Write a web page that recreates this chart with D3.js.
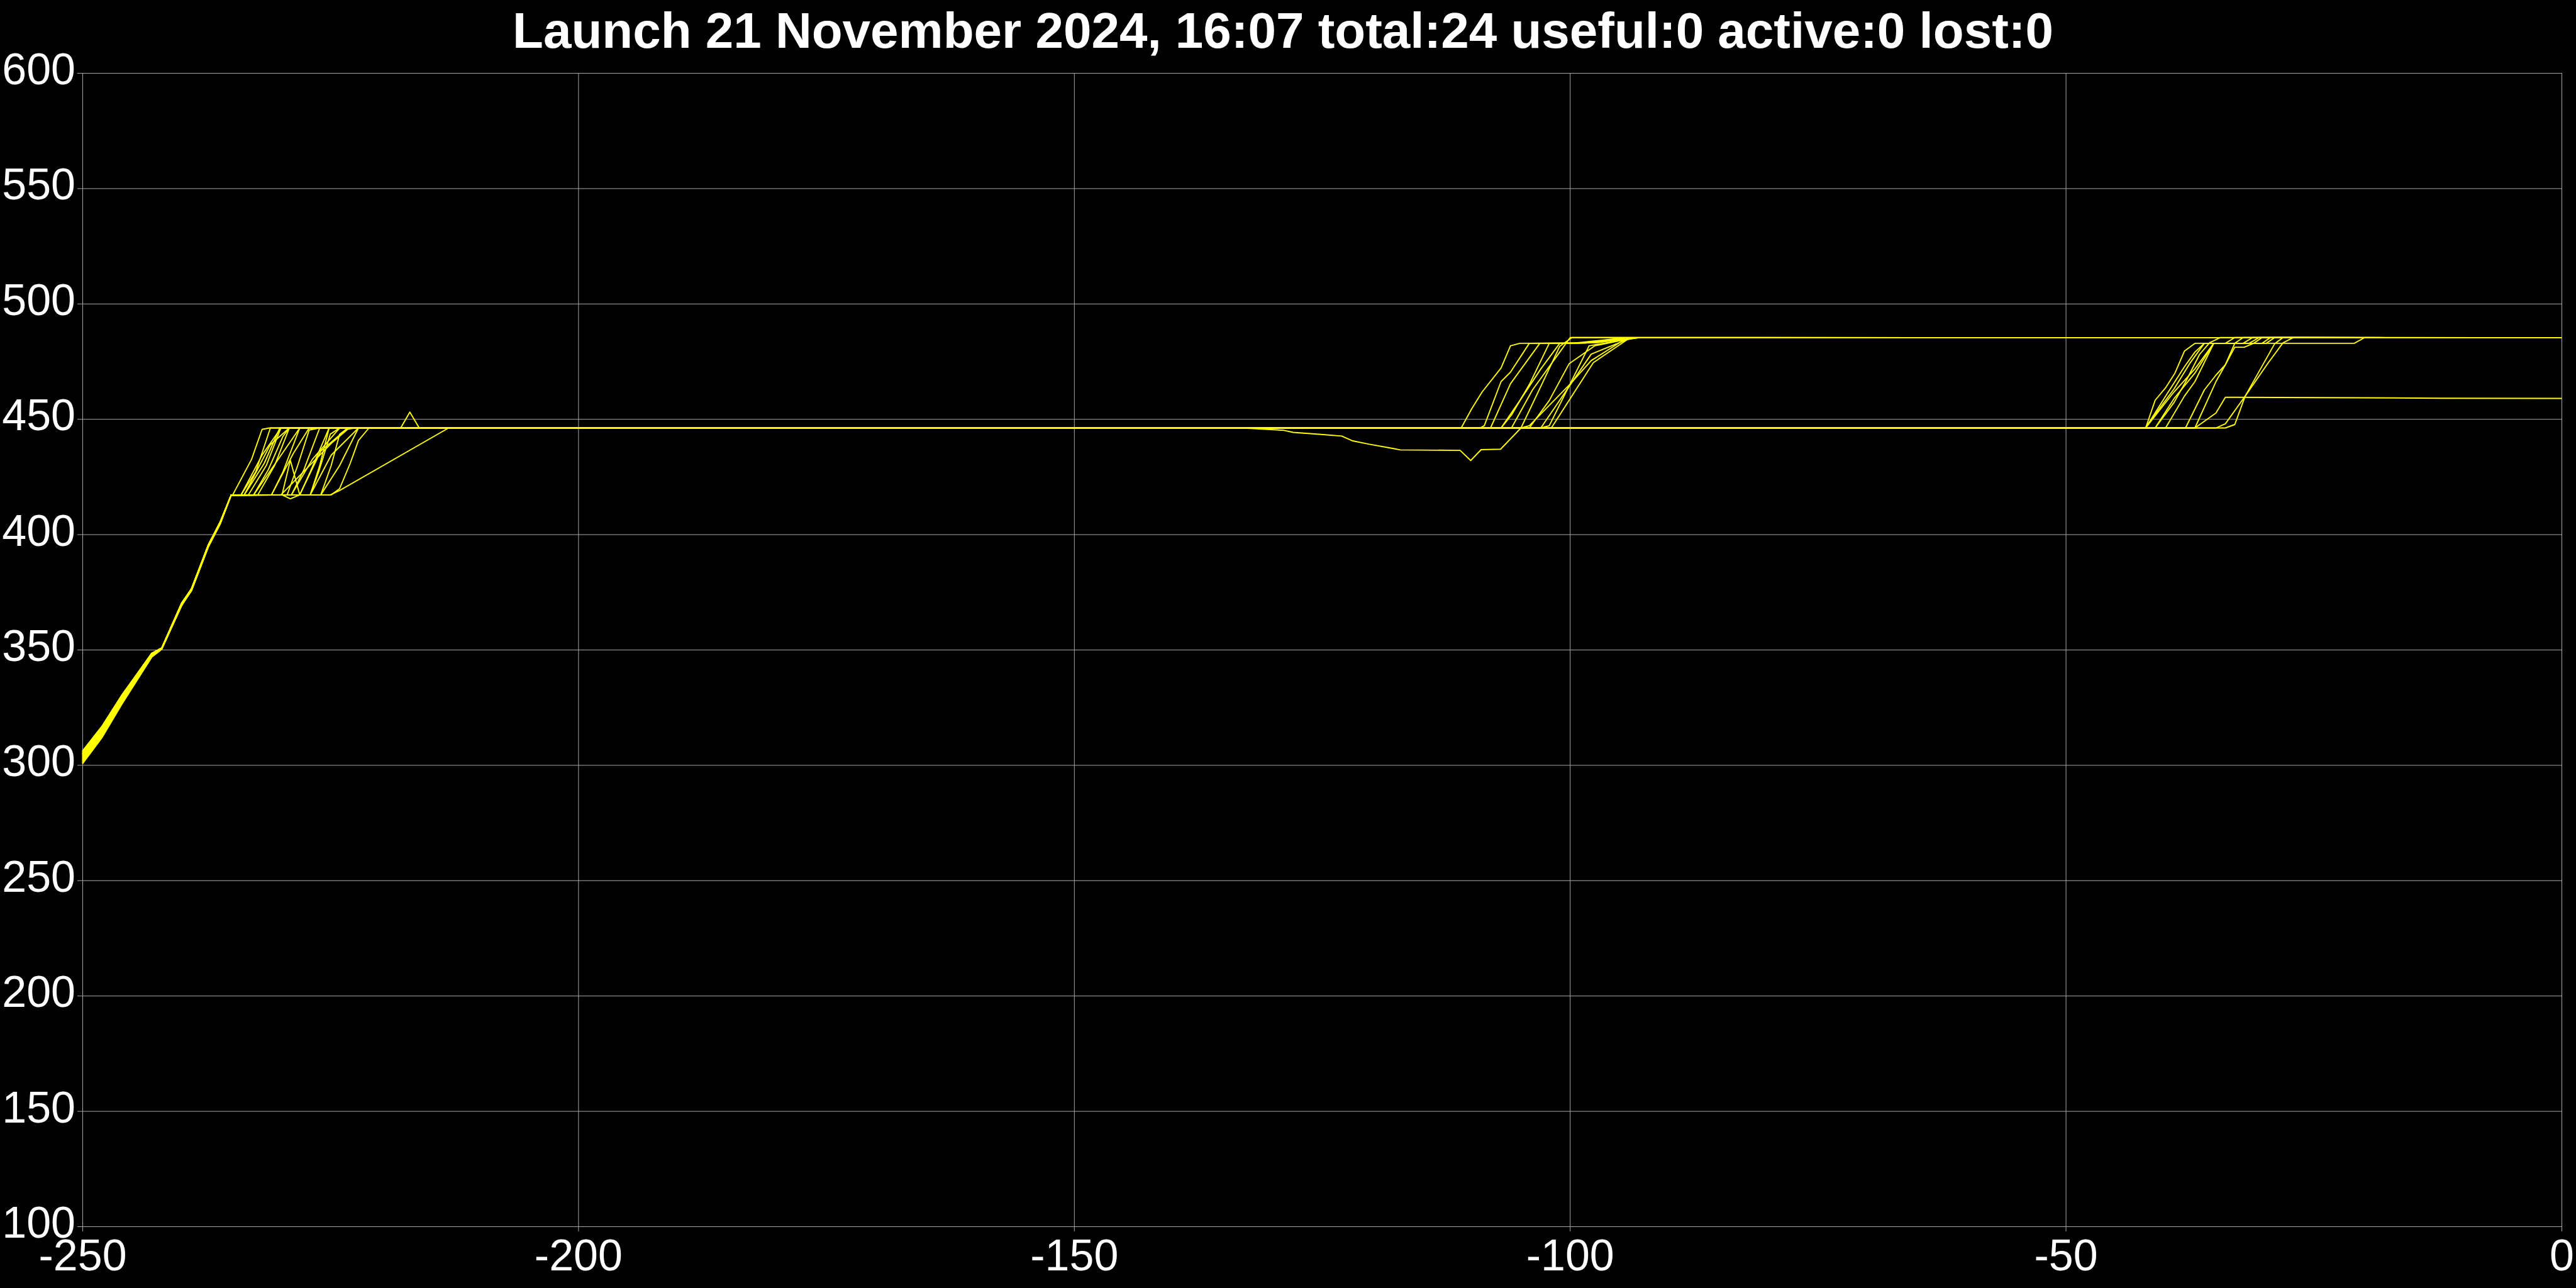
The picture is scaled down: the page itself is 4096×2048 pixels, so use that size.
<!DOCTYPE html>
<html><head><meta charset="utf-8">
<script src="https://cdn.jsdelivr.net/npm/d3@7"></script>
<style>html,body{margin:0;padding:0;background:#000}svg{display:block}</style>
</head><body>
<script>
const titleText = "Launch 21 November 2024, 16:07 total:24 useful:0 active:0 lost:0";
const xTicks = [-250, -200, -150, -100, -50, 0];
const yTicks = [100, 150, 200, 250, 300, 350, 400, 450, 500, 550, 600];
const xDomain = [-250, 0];
const yDomain = [100, 600];

const s01 = [[-250,304.0],[-248,315.5],[-246,329.5],[-243,348.0],[-242,350.5],[-240,369.0],[-239,376.0],[-237.3,395.5],[-236.1,405.0],[-235,417.0],
 [-234.84,417.1],[-232.94,432.5],[-231.88,445.5],[-231.14,446.1],[-217.9,446.1],[-216.98,453.0],[-216.03,446.1],
 [-41.94,446.1],[-40.98,458.1],[-39.93,463.5],[-38.98,469.9],[-38.03,479.4],[-36.97,482.8],[-33.9,482.8],[-32.95,485.3],[0,485.2]];
const s02 = [[-250,301.0],[-248,312.5],[-246,327.0],[-243,347.0],[-242,350.5],[-240,369.5],[-239,375.5],[-237.3,394.5],[-236.1,404.5],[-235,417.0],
 [-234.0,417.1],[-232.52,427.1],[-231.04,446.1],
 [-110.96,446.1],[-109.9,454.4],[-108.85,461.7],[-106.94,472.1],[-105.99,481.7],[-105.04,482.8],[-99.5,482.9],[-94.5,485.2],[0,485.2]];
const s03 = [[-250,305.5],[-248,316.5],[-246,330.0],[-243,348.5],[-242,350.8],[-240,370.0],[-239,376.5],[-237.3,395.5],[-236.1,405.5],[-235,417.0],
 [-233.68,417.1],[-231.67,430.7],[-230.09,446.1],
 [-41.94,446.1],[-39.93,459.9],[-38.03,472.6],[-36.97,479.0],[-36.02,482.8],[-32.95,482.8],[-32.11,485.3],[0,485.2]];
const s04 = [[-250,302.0],[-248,313.0],[-246,327.5],[-243,347.0],[-242,350.3],[-240,369.0],[-239,375.8],[-237.3,394.8],[-236.1,404.8],[-235,417.0],
 [-233.26,417.1],[-231.46,429.8],[-229.98,446.1],
 [-109.06,446.1],[-108.63,447.1],[-106.94,466.2],[-105.99,470.3],[-104.09,482.8],[-99.0,482.9],[-94.2,485.2],[0,485.2]];
const s05 = [[-250,306.0],[-248,317.0],[-246,330.5],[-243,348.5],[-242,350.6],[-240,370.2],[-239,376.3],[-237.3,395.3],[-236.1,405.2],[-235,417.0],
 [-232.73,417.1],[-231.25,428.0],[-229.77,442.5],[-229.13,446.1],
 [-41.94,446.1],[-39.08,461.7],[-36.97,471.7],[-35.07,482.8],[-32.11,482.8],[-31.15,485.3],[0,485.2]];
const s06 = [[-250,300.5],[-248,312.0],[-246,326.5],[-243,346.8],[-242,350.2],[-240,369.2],[-239,375.6],[-237.3,394.6],[-236.1,404.6],[-235,417.0],
 [-232.31,417.1],[-230.62,429.8],[-229.13,446.1],
 [-108.0,446.1],[-105.99,465.3],[-103.03,482.8],[-98.5,482.9],[-94.0,485.2],[0,485.2]];
const s07 = [[-250,303.5],[-248,314.5],[-246,328.5],[-243,347.8],[-242,350.5],[-240,369.6],[-239,376.0],[-237.3,395.0],[-236.1,405.0],[-235,417.0],
 [-230.93,417.1],[-229.77,427.1],[-228.08,446.1],
 [-40.98,446.1],[-39.08,458.8],[-36.97,469.9],[-35.07,482.8],[-31.05,482.8],[-30.2,485.3],[0,485.2]];
const s08 = [[-250,304.5],[-248,315.0],[-246,329.0],[-243,348.0],[-242,350.6],[-240,369.8],[-239,376.2],[-237.3,395.2],[-236.1,405.1],[-235,417.0],
 [-229.87,417.1],[-229.03,432.1],[-228.08,417.1],[-227.02,417.1],[-226.07,429.8],[-225.12,446.1],
 [-106.94,446.1],[-105.89,451.7],[-104.09,464.9],[-102.08,482.8],[-97.5,483.0],[-93.8,485.2],[0,485.2]];
const s09 = [[-250,302.5],[-248,313.5],[-246,327.8],[-243,347.3],[-242,350.4],[-240,369.4],[-239,375.9],[-237.3,394.9],[-236.1,404.9],[-235,417.0],
 [-229.35,417.1],[-228.29,429.8],[-227.13,445.2],[-226.07,446.1],
 [-39.93,446.1],[-38.03,459.9],[-36.97,466.2],[-35.07,482.8],[-30.2,482.8],[-29.36,485.3],[0,485.2]];
const s10 = [[-250,305.0],[-248,316.0],[-246,329.8],[-243,348.2],[-242,350.7],[-240,370.0],[-239,376.4],[-237.3,395.4],[-236.1,405.3],[-235,417.0],
 [-228.92,417.1],[-227.66,428.0],[-226.07,446.1],
 [-106.94,446.1],[-105.04,458.0],[-102.93,471.7],[-101.02,482.8],[-97.0,483.2],[-93.6,485.2],[0,485.2]];
const s11 = [[-250,301.5],[-248,312.8],[-246,327.2],[-243,347.1],[-242,350.3],[-240,369.3],[-239,375.7],[-237.3,394.7],[-236.1,404.7],[-235,417.0],
 [-228.08,417.1],[-227.02,427.1],[-225.12,446.1],
 [-37.92,446.1],[-36.02,462.6],[-34.85,469.0],[-33.9,473.5],[-32.95,482.8],[-29.78,482.8],[-28.93,485.3],[0,485.2]];
const s12 = [[-250,303.0],[-248,314.2],[-246,328.2],[-243,347.6],[-242,350.5],[-240,369.5],[-239,376.0],[-237.3,395.0],[-236.1,405.0],[-235,417.0],
 [-227.02,417.1],[-226.17,427.1],[-225.0,443.4],[-224.06,446.1],
 [-105.89,446.1],[-103.77,462.6],[-101.02,479.0],[-99.97,485.3],[0,485.2]];
const s13 = [[-250,304.8],[-248,315.8],[-246,329.3],[-243,348.1],[-242,350.6],[-240,369.9],[-239,376.3],[-237.3,395.3],[-236.1,405.2],[-235,417.0],
 [-225.96,417.1],[-224.91,429.8],[-224.06,443.4],[-223.22,446.1],
 [-36.97,446.1],[-34.85,466.2],[-33.9,473.5],[-32.95,481.1],[-32.0,481.1],[-31.05,482.8],[-20.9,482.8],[-19.85,485.3],[0,485.2]];
const s14 = [[-250,300.8],[-248,312.3],[-246,326.8],[-243,346.9],[-242,350.2],[-240,369.1],[-239,375.6],[-237.3,394.6],[-236.1,404.6],[-235,417.0],
 [-224.91,417.1],[-224.06,419.8],[-223.0,430.7],[-222.16,440.7],[-221.1,446.1],
 [-104.93,446.1],[-102.5,468.0],[-101.02,481.5],[-99.8,485.3],[0,485.2]];
const s15 = [[-250,305.8],[-248,316.8],[-246,330.3],[-243,348.4],[-242,350.7],[-240,370.1],[-239,376.4],[-237.3,395.4],[-236.1,405.4],[-235,417.0],
 [-225.0,417.1],[-224.06,419.0],[-213.07,446.1],
 [-36.97,446.1],[-34.85,452.6],[-33.9,459.4],[-20.0,459.2],[-12.0,459.0],[0,458.9]];
const s16 = [[-250,302.8],[-248,313.8],[-246,328.0],[-243,347.5],[-242,350.4],[-240,369.4],[-239,375.9],[-237.3,394.9],[-236.1,404.9],[-235,417.0],
 [-229.98,417.1],[-224.91,439.4],[-223.22,445.6],[-222.5,446.1],
 [-102.93,446.1],[-102.08,447.1],[-98.06,481.7],[-94.47,484.4],[-93.4,485.2],[0,485.2]];
const s17 = [[-250,303.8],[-248,315.2],[-246,329.0],[-243,347.9],[-242,350.5],[-240,369.7],[-239,376.1],[-237.3,395.1],[-236.1,405.1],[-235,417.0],
 [-234.0,417.1],[-231.88,434.3],[-229.98,446.1],
 [-34.85,446.1],[-33.9,447.9],[-31.9,459.9],[-28.93,482.6],[-28.09,485.3],[0,485.2]];
const s18 = [[-250,301.2],[-248,312.6],[-246,327.1],[-243,347.0],[-242,350.3],[-240,369.2],[-239,375.7],[-237.3,394.7],[-236.1,404.7],[-235,417.0],
 [-233.68,417.1],[-231.04,438.9],[-229.13,446.1],
 [-102.93,446.1],[-97.85,478.1],[-94.26,484.4],[-93.2,485.2],[0,485.2]];
const s19 = [[-250,305.2],[-248,316.2],[-246,329.9],[-243,348.3],[-242,350.7],[-240,370.0],[-239,376.3],[-237.3,395.3],[-236.1,405.3],[-235,417.0],
 [-232.73,417.1],[-230.4,431.6],[-228.08,446.1],
 [-33.9,446.1],[-32.95,447.6],[-31.9,459.9],[-29.57,474.4],[-28.09,483.0],[-27.03,485.3],[0,485.2]];
const s20 = [[-250,302.2],[-248,313.2],[-246,327.6],[-243,347.2],[-242,350.4],[-240,369.3],[-239,375.8],[-237.3,394.8],[-236.1,404.8],[-235,417.0],
 [-230.93,417.1],[-228.71,435.2],[-227.13,446.1],
 [-101.87,446.1],[-97.64,474.4],[-94.05,484.9],[-93.0,485.2],[0,485.2]];
const s21 = [[-250,304.2],[-248,315.3],[-246,329.1],[-243,348.0],[-242,350.6],[-240,369.8],[-239,376.2],[-237.3,395.2],[-236.1,405.1],[-235,417.0],
 [-228.92,417.1],[-226.81,432.5],[-224.06,446.1],
 [-41.94,446.1],[-40.98,452.0],[-39.08,463.0],[-37.5,474.0],[-36.02,482.8],[-31.5,482.8],[-30.5,485.3],[0,485.2]];
const s22 = [[-250,301.8],[-248,313.0],[-246,327.4],[-243,347.2],[-242,350.4],[-240,369.3],[-239,375.8],[-237.3,394.8],[-236.1,404.8],[-235,417.0],
 [-228.08,417.1],[-225.96,436.1],[-223.22,446.1],
 [-133.0,446.1],[-128.9,445.1],[-127.9,444.2],[-125.1,443.3],[-123.0,442.6],[-121.9,440.5],[-120.3,439.1],[-117.7,437.1],[-117.1,436.6],[-111.07,436.4],[-110.0,432.0],[-108.95,436.7],[-106.99,436.9],[-104.93,446.1],[-104.09,447.1],[-100.0,465.0],[-97.85,475.3],[-94.5,484.4],[-93.4,485.2],[0,485.2]];
const s23 = [[-250,303.2],[-248,314.4],[-246,328.4],[-243,347.7],[-242,350.5],[-240,369.6],[-239,376.0],[-237.3,395.0],[-236.1,405.0],[-235,417.0],
 [-227.02,417.1],[-224.91,434.3],[-222.16,446.1],
 [-40.98,446.1],[-39.08,457.1],[-37.92,466.0],[-36.5,478.0],[-35.5,483.0],[-34.4,485.3],[0,485.2]];
const s24 = [[-250,304.6],[-248,315.6],[-246,329.5],[-243,348.1],[-242,350.6],[-240,369.9],[-239,376.2],[-237.3,395.2],[-236.1,405.2],[-235,417.0],
 [-229.87,417.1],[-229.03,415.4],[-228.08,417.1],[-225.96,417.1],[-224.06,429.8],[-222.16,446.1],
 [-104.09,446.1],[-102.08,458.0],[-100.07,474.0],[-97.5,481.7],[-94.2,484.6],[-93.2,485.2],[0,485.2]];

const allSeries = [s01,s02,s03,s04,s05,s06,s07,s08,s09,s10,s11,s12,s13,s14,s15,s16,s17,s18,s19,s20,s21,s22,s23,s24];

const W = 4096, H = 2048;
const plot = {left: 131, right: 4073, top: 116, bottom: 1950};
const FONT = "'Liberation Sans', Arial, Helvetica, sans-serif";
const GRID = "#a8a8a8";

const svg = d3.select("body").append("svg").attr("width", W).attr("height", H);
svg.append("rect").attr("width", W).attr("height", H).attr("fill", "#000");

const x = d3.scaleLinear().domain(xDomain).range([plot.left, plot.right]);
const y = d3.scaleLinear().domain(yDomain).range([plot.bottom, plot.top]);

// Y grid + labels
const gy = svg.append("g")
  .attr("transform", `translate(${plot.right},0)`)
  .call(d3.axisLeft(y).tickValues(yTicks).tickSize(plot.right - plot.left + 8).tickPadding(3).tickFormat(d => String(d)));
gy.select(".domain").remove();
gy.attr("font-family", FONT).attr("font-size", 70);
gy.selectAll(".tick line").attr("stroke", GRID).attr("stroke-width", 1);
gy.selectAll(".tick text").attr("fill", "#fff").attr("dy", "0.25em");

// X grid + labels
const gx = svg.append("g")
  .attr("transform", `translate(0,${plot.top})`)
  .call(d3.axisBottom(x).tickValues(xTicks).tickSize(plot.bottom - plot.top + 8).tickPadding(12).tickFormat(d => String(d)));
gx.select(".domain").remove();
gx.attr("font-family", FONT).attr("font-size", 70);
gx.selectAll(".tick line").attr("stroke", GRID).attr("stroke-width", 1);
gx.selectAll(".tick text").attr("fill", "#fff");

// Series
const line = d3.line().x(d => x(d[0])).y(d => y(d[1]));
svg.append("g").selectAll("path").data(allSeries).join("path")
  .attr("d", line)
  .attr("fill", "none")
  .attr("stroke", "#ffff00")
  .attr("stroke-width", 1.9)
  .attr("stroke-linejoin", "round");

// Title
svg.append("text")
  .attr("x", 2040).attr("y", 76)
  .attr("text-anchor", "middle")
  .attr("font-family", FONT)
  .attr("font-weight", "bold")
  .attr("font-size", 80)
  .attr("fill", "#fff")
  .text(titleText);
</script>
</body></html>
